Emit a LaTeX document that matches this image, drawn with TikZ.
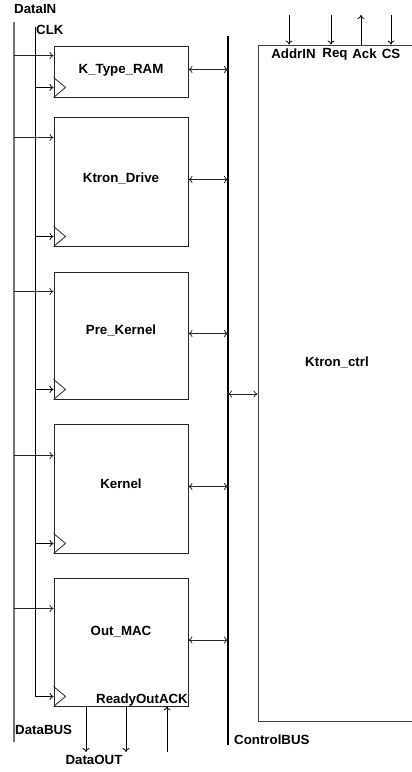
\documentclass[tikz,border=0pt]{standalone}
\usepackage{fontspec}
\setmainfont{Liberation Sans}
\usetikzlibrary{calc,arrows.meta}
\begin{document}
\begin{tikzpicture}[x=1pt,y=-1pt,
  txt/.style={font=\fontsize{13.3}{15}\selectfont\bfseries, inner sep=0pt},
  block/.style={draw=black!85, line width=0.9pt, minimum width=134pt, inner sep=0pt},
  sig/.style={line width=0.8pt, -{To[length=4pt,width=7pt]}},
  bidir/.style={line width=0.8pt, black!85, {To[length=4pt,width=7pt]}-{To[length=4pt,width=7pt]}},
  clkarr/.style={draw=black!85, line width=0.8pt}]
\clip (0,0) rectangle (412,772);
\fill[white] (0,0) rectangle (412,772);

% blocks
\node[block, minimum height=51pt] (kt) at (121,71.5) {};
\node[block, minimum height=129pt] (kd) at (121,181.5) {};
\node[block, minimum height=127pt] (pk) at (121,335.5) {};
\node[block, minimum height=129pt] (kn) at (121,488.5) {};
\node[block, minimum height=128pt] (om) at (121,642) {};
\node[txt] (ktl) at (121,70) {K\_Type\_RAM};
\node[txt] (kdl) at (121,178) {Ktron\_Drive};
\node[txt] (pkl) at (121,330) {Pre\_Kernel};
\node[txt] (knl) at (121,484) {Kernel};
\node[txt] (oml) at (121,632) {Out\_MAC};

% controller
\node[draw=black!75, line width=0.9pt, minimum width=158pt, minimum height=676pt, inner sep=0pt] (ctrl) at (337,383) {};
\node[txt] (ctrll) at (337,362) {Ktron\_ctrl};

% buses
\coordinate (dbtop) at (14,22);
\coordinate (dbbot) at (14,742);
\draw[black!55, line width=1.5pt] (dbtop) -- (dbbot);
\coordinate (clktop) at (35,27);
\coordinate (cbtop) at (228,36);
\coordinate (cbbot) at (228,745);
\draw[black, line width=2pt] (cbtop) -- (cbbot);

% helper coordinates
\foreach \b/\o in {kt/10, kd/21, pk/20, kn/32, om/31}{
  \path (\b.north west) ++(0,\o) coordinate (\b-d);
  \path (\b.south west) ++(0,-10) coordinate (\b-c);
  \path (\b.east) ++(0,-2) coordinate (\b-e);
}

% data arrows
\foreach \b in {kt, kd, pk, kn, om}{
  \draw[sig, black!85] (\b-d -| dbtop) -- (\b-d);
  \draw[clkarr] (\b.south west) -- ++(12,-10) -- ++(-12,-10);
  \draw[bidir] (\b-e) -- (\b-e -| cbtop);
}
\foreach \b in {kt, kd, pk, kn}{
  \draw[sig] (\b-c -| clktop) -- (\b-c);
}
\draw[sig] (clktop) -- (om-c -| clktop) -- (om-c);

\coordinate (cbm) at (228,394);
\draw[bidir] (cbm) -- (cbm -| ctrl.west);

% top signals of controller
\coordinate (addr) at (289,15);
\coordinate (req) at (331,15);
\coordinate (ack) at (361,15);
\coordinate (cs) at (391,15);
\draw[sig] (addr) -- (addr |- ctrl.north);
\draw[sig] (req) -- (req |- ctrl.north);
\draw[sig] (ack |- ctrl.north) -- (ack);
\draw[sig] (cs) -- (cs |- ctrl.north);
\node[txt] (addrl) at (293.5,54) {AddrIN};
\node[txt] (reql) at (335,54) {Req};
\node[txt] (ackl) at (364.5,54) {Ack};
\node[txt] (csl) at (391,54) {CS};

% bottom signals of Out_MAC
\coordinate (do1) at (86,752);
\coordinate (do2) at (126,752);
\coordinate (rdy) at (167,752);
\draw[sig] (do1 |- om.south) -- (do1);
\draw[sig] (do2 |- om.south) -- (do2);
\draw[sig] (rdy) -- (rdy |- om.south);

% labels
\node[txt, anchor=west] (datain) at (14,9) {DataIN};
\node[txt, anchor=west] (clkl) at (36,30) {CLK};
\node[txt, anchor=west] (databus) at (15,730) {DataBUS};
\node[txt] (dataout) at (94,760) {DataOUT};
\node[txt] (ready) at (142,700) {ReadyOutACK};
\node[txt, anchor=west] (ctrlbus) at (234,740) {ControlBUS};
\end{tikzpicture}
\end{document}
